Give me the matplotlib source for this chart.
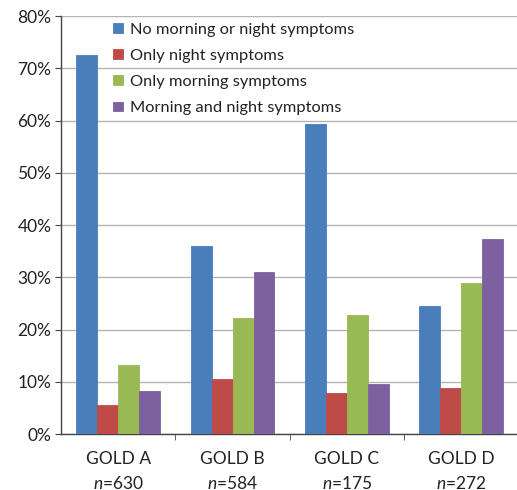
import matplotlib
matplotlib.use("Agg")
import matplotlib.pyplot as plt
import numpy as np
from matplotlib.ticker import FuncFormatter, FixedLocator

plt.rcParams['font.family'] = ['Lato', 'DejaVu Sans']
plt.rcParams['mathtext.fontset'] = 'custom'
plt.rcParams['mathtext.it'] = 'Lato:italic'
plt.rcParams['mathtext.rm'] = 'Lato'

groups = ["GOLD A", "GOLD B", "GOLD C", "GOLD D"]
n_counts = [630, 584, 175, 272]
series = ["No morning or night symptoms", "Only night symptoms",
          "Only morning symptoms", "Morning and night symptoms"]
no_symptoms = [72.6, 36.0, 59.4, 24.6]
night_only = [5.6, 10.6, 7.9, 8.8]
morning_only = [13.3, 22.2, 22.8, 29.0]
morning_and_night = [8.2, 31.0, 9.6, 37.4]
colors = ["#4a7ebb", "#be4b48", "#98b954", "#7d60a0"]

values = [no_symptoms, night_only, morning_only, morning_and_night]

fig = plt.figure(figsize=(5.17, 4.90), dpi=100)
ax = fig.add_axes([0.118, 0.114, 0.885, 0.853])

x = np.arange(len(groups))
w = 0.183
for i, (vals, lab, col) in enumerate(zip(values, series, colors)):
    ax.bar(x + (i - 1.5) * w, vals, width=w, color=col, label=lab,
           edgecolor=col, linewidth=0.6, zorder=3)

ax.set_xlim(-0.5, 3.5)
ax.set_ylim(0, 80)
ax.set_yticks(np.arange(0, 81, 10))
ax.yaxis.set_major_formatter(FuncFormatter(lambda v, p: f"{v:.0f}%"))
ax.grid(axis='y', color='#b4b4b4', linewidth=1.0, zorder=0)

ax.set_xticks(x)
ax.set_xticklabels([f"{g}\n$n$={n}" for g, n in zip(groups, n_counts)],
                   fontsize=12.5, linespacing=1.55)
ax.tick_params(axis='x', which='major', length=0, pad=12, colors='#222222')
ax.xaxis.set_minor_locator(FixedLocator([0.5, 1.5, 2.5]))
ax.tick_params(axis='x', which='minor', length=4, direction='out', color='#444444')
ax.tick_params(axis='y', length=4, direction='out', labelsize=12.5,
               color='#444444', labelcolor='#222222', pad=3)

for s in ['top', 'right']:
    ax.spines[s].set_visible(False)
for s in ['left', 'bottom']:
    ax.spines[s].set_color('#444444')
    ax.spines[s].set_linewidth(1.0)

leg = ax.legend(loc='upper left', bbox_to_anchor=(0.114, 0.984), frameon=False,
                fontsize=11.8, handlelength=0.6, handleheight=0.55,
                handletextpad=0.4, labelspacing=0.74,
                borderpad=0, borderaxespad=0)
for t in leg.get_texts():
    t.set_color('#222222')

fig.savefig("out.png", dpi=100)
